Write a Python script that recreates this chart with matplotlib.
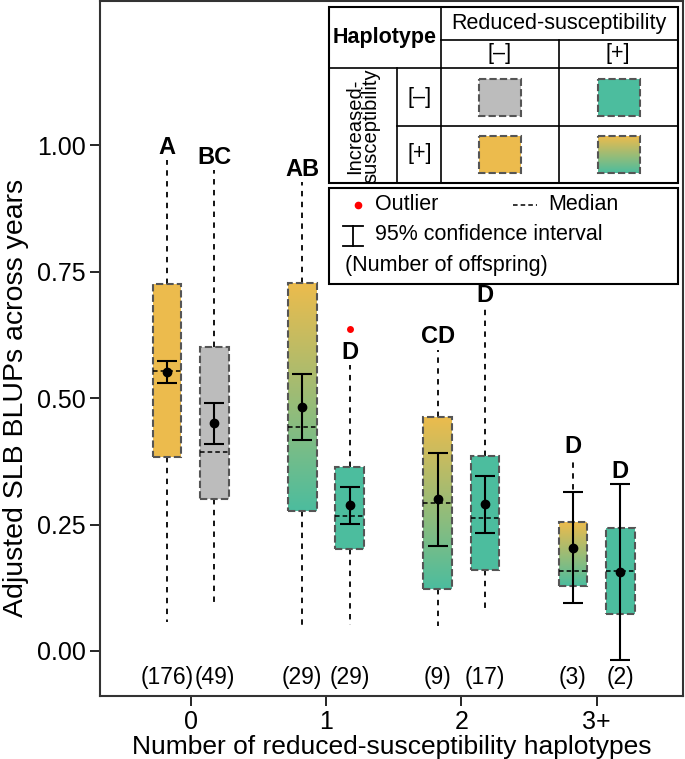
import matplotlib
matplotlib.use("Agg")
import matplotlib.pyplot as plt
from matplotlib.patches import Rectangle
import numpy as np

plt.rcParams["font.family"] = ["Liberation Sans", "DejaVu Sans"]

# data
groups = ["0", "1", "2", "3+"]
group_idx = [0, 0, 1, 1, 2, 2, 3, 3]
side = [-1, 1, -1, 1, -1, 1, -1, 1]
n_off = [176, 49, 29, 29, 9, 17, 3, 2]
letters = ["A", "BC", "AB", "D", "CD", "D", "D", "D"]
fill = ["inc", "none", "both", "red", "both", "red", "both", "red"]
whis_hi = [0.970, 0.951, 0.927, 0.565, 0.596, 0.678, 0.379, 0.243]
q3 = [0.725, 0.600, 0.727, 0.364, 0.463, 0.385, 0.255, 0.243]
med = [0.554, 0.393, 0.443, 0.267, 0.292, 0.262, 0.158, 0.159]
q1 = [0.384, 0.300, 0.277, 0.201, 0.122, 0.160, 0.129, 0.073]
whis_lo = [0.058, 0.093, 0.051, 0.051, 0.049, 0.082, 0.129, 0.073]
mean = [0.551, 0.450, 0.483, 0.289, 0.300, 0.291, 0.204, 0.156]
ci_lo = [0.529, 0.409, 0.417, 0.252, 0.208, 0.234, 0.094, -0.018]
ci_hi = [0.574, 0.491, 0.548, 0.325, 0.391, 0.346, 0.315, 0.330]
outliers = [[], [], [], [0.636], [], [], [], []]

orange = np.array([236, 187, 77]) / 255
teal = np.array([76, 189, 158]) / 255
gray = "#bcbcbc"
colors = {"inc": orange, "none": gray, "red": teal}

def grad_img():
    t = np.linspace(0, 1, 200)[:, None, None]
    return (1 - t) * orange + t * teal

fig = plt.figure(figsize=(6.85, 7.59), dpi=100)
ax = fig.add_axes([100 / 685, 63 / 759, 583 / 685, 695 / 759])

pos = [g + 1 + s * 0.175 for g, s in zip(group_idx, side)]
width = 0.212

stats = []
for i in range(len(pos)):
    stats.append(dict(med=med[i], q1=q1[i], q3=q3[i], whislo=whis_lo[i],
                      whishi=whis_hi[i], fliers=outliers[i], mean=mean[i]))

bp = ax.bxp(stats, positions=pos, widths=width, patch_artist=True,
            showcaps=False, manage_ticks=False,
            boxprops=dict(linestyle=(0, (3.5, 1.5)), edgecolor="#555555", linewidth=1.5),
            whiskerprops=dict(linestyle=(0, (3, 3)), color="black", linewidth=1.3),
            medianprops=dict(linestyle=(0, (3, 2)), color="black", linewidth=1.1),
            flierprops=dict(marker="o", markerfacecolor="red", markeredgecolor="none",
                            markersize=5))

for i, box in enumerate(bp["boxes"]):
    box.set_zorder(3)
    if fill[i] == "both":
        box.set_facecolor("none")
        im = ax.imshow(grad_img(), extent=(pos[i] - width / 2, pos[i] + width / 2, q1[i], q3[i]),
                       aspect="auto", origin="upper", interpolation="bilinear", zorder=2)
        im.set_clip_path(box)
    else:
        box.set_facecolor(colors[fill[i]])
for m in bp["medians"]:
    m.set_zorder(4)

ax.errorbar(pos, mean, yerr=[np.array(mean) - np.array(ci_lo), np.array(ci_hi) - np.array(mean)],
            fmt="o", color="black", ms=6, capsize=7.5, elinewidth=1.5, capthick=1.5, zorder=6)

for i in range(len(pos)):
    top = max(whis_hi[i], ci_hi[i])
    ax.annotate(letters[i], (pos[i], top), xytext=(0, 1), textcoords="offset points",
                ha="center", va="bottom", fontsize=17, fontweight="bold")
    ax.text(pos[i], -0.053, "(%d)" % n_off[i], ha="center", va="center", fontsize=16.5)

ax.set_xlim(0.330, 4.639)
ax.set_ylim(-0.089, 1.285)
ax.set_xticks([1, 2, 3, 4], groups)
ax.set_yticks([0, 0.25, 0.5, 0.75, 1.0], ["0.00", "0.25", "0.50", "0.75", "1.00"])
ax.tick_params(labelsize=18, length=7, width=1.2, pad=3)
for s in ax.spines.values():
    s.set_linewidth(1.5)
    s.set_color("#333333")
ax.set_xlabel("Number of reduced-susceptibility haplotypes", fontsize=19, labelpad=1)
ax.set_ylabel("Adjusted SLB BLUPs across years", fontsize=20.5, labelpad=6)
# label centred on the 0-1 data range
ax.yaxis.label.set_y((0.5 + 0.089) / (1.285 + 0.089))

# legend table drawn in pixel coordinates on an overlay axes
lax = fig.add_axes([0, 0, 1, 1], zorder=10)
lax.axis("off")
lax.patch.set_alpha(0)

kw = dict(color="black", lw=1.2)
lax.add_patch(Rectangle((329, 7), 349, 176, facecolor="white", edgecolor="black", lw=1.5))
lax.plot([441, 441], [7, 183], **kw)
lax.plot([559, 559], [40, 183], **kw)
lax.plot([397, 397], [68, 183], **kw)
lax.plot([441, 678], [40, 40], **kw)
lax.plot([329, 678], [68, 68], **kw)
lax.plot([397, 678], [126, 126], **kw)

fs = 15.5
lax.text(385, 38, "Haplotype", ha="center", va="center", fontsize=fs, fontweight="bold")
lax.text(559, 24, "Reduced-susceptibility", ha="center", va="center", fontsize=fs)
lax.text(500, 54, "[–]", ha="center", va="center", fontsize=fs)
lax.text(618, 54, "[+]", ha="center", va="center", fontsize=fs)
lax.text(363, 126, "Increased-\nsusceptibility", ha="center", va="center", rotation=90,
         fontsize=14.5, linespacing=0.85)
lax.text(420, 97, "[–]", ha="center", va="center", fontsize=fs)
lax.text(420, 154, "[+]", ha="center", va="center", fontsize=fs)

sw, sh = 42, 37
sq = dict(linestyle=(0, (3.5, 1.5)), edgecolor="#555555", lw=1.5, zorder=3)
lax.add_patch(Rectangle((479, 79), sw, sh, facecolor=gray, **sq))
lax.add_patch(Rectangle((598, 79), sw, sh, facecolor=teal, **sq))
lax.add_patch(Rectangle((479, 136), sw, sh, facecolor=orange, **sq))
lax.add_patch(Rectangle((598, 136), sw, sh, facecolor="none", **sq))
lax.imshow(grad_img(), extent=(598, 598 + sw, 136 + sh, 136), aspect="auto",
           interpolation="bilinear", zorder=2)

lax.add_patch(Rectangle((329, 188), 349, 96, facecolor="white", edgecolor="black", lw=1.5))
lax.plot([358], [205], "o", color="red", ms=4.5)
lax.text(375, 205, "Outlier", ha="left", va="center", fontsize=fs)
lax.plot([513, 537], [205, 205], color="black", lw=1.1, linestyle=(0, (3, 2)))
lax.text(548, 205, "Median", ha="left", va="center", fontsize=fs)
lax.plot([353, 353], [226, 246], color="black", lw=1.3)
lax.plot([343, 363], [226, 226], color="black", lw=1.3)
lax.plot([343, 363], [246, 246], color="black", lw=1.3)
lax.text(375, 235, "95% confidence interval", ha="left", va="center", fontsize=fs)
lax.text(345, 265, "(Number of offspring)", ha="left", va="center", fontsize=fs)

lax.set_xlim(0, 685)
lax.set_ylim(759, 0)

fig.savefig("out.png", dpi=100)
